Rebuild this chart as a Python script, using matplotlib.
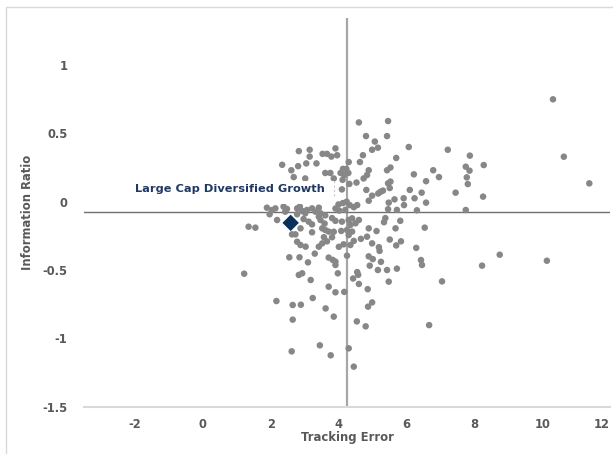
import matplotlib
matplotlib.use("Agg")
import matplotlib.pyplot as plt
from matplotlib.patches import Rectangle

# ---------------- data ----------------
te_upper = [2.83, 3.15, 3.15, 3.53, 3.66, 3.91, 3.79, 3.96, 2.34, 2.61,
            2.81, 3.05, 3.35, 2.68, 3.02, 3.61, 3.76, 3.86, 4.06, 4.13,
            4.23, 4.17, 4.29, 4.12, 4.32, 4.10, 4.30, 4.60, 5.46, 4.81,
            5.43, 5.07, 4.99, 5.16, 6.07, 7.22, 4.72, 4.63, 5.70, 5.53,
            5.43, 4.89, 4.84, 4.74, 6.22, 6.79, 6.96, 6.58, 7.45, 4.53,
            5.53, 5.46, 4.82, 4.99, 5.24, 5.31, 5.51, 6.10, 6.45, 5.65,
            5.92, 6.24, 6.58, 4.89, 5.48, 5.17, 5.93, 4.00, 4.13, 4.24,
            4.33, 4.45, 4.55]
ir_upper = [0.37, 0.38, 0.33, 0.35, 0.35, 0.39, 0.33, 0.34, 0.27, 0.23,
            0.26, 0.28, 0.28, 0.18, 0.17, 0.21, 0.21, 0.17, 0.21, 0.24,
            0.24, 0.195, 0.21, 0.16, 0.13, 0.09, 0.29, 0.58, 0.59, 0.48,
            0.48, 0.44, 0.38, 0.395, 0.40, 0.38, 0.34, 0.29, 0.32, 0.25,
            0.23, 0.23, 0.195, 0.17, 0.20, 0.23, 0.18, 0.15, 0.066, 0.14,
            0.147, 0.134, 0.086, 0.044, 0.073, 0.081, 0.10, 0.086, 0.066, 0.017,
            0.025, 0.025, -0.007, 0.007, -0.007, 0.06, -0.025, -0.02, -0.01, 0.0,
            -0.025, -0.04, -0.025]

te_lower_left = [1.89, 2.04, 2.14, 2.38, 2.48, 2.43, 2.78, 2.86, 2.93, 3.02,
                 3.07, 3.22, 3.32, 3.42, 3.47, 2.19, 1.55, 1.35, 2.97, 3.12,
                 2.88, 3.22, 3.42, 3.47, 3.52, 2.63, 2.73, 3.22, 2.78, 2.88,
                 3.03, 3.42, 3.52, 1.97, 2.78, 3.61, 3.59, 3.61, 3.71, 3.81,
                 3.91, 3.91, 3.86, 3.57, 3.81, 3.66, 3.30, 4.01, 2.55, 2.85,
                 3.10, 3.71, 3.83, 3.91, 3.91, 2.83, 2.93, 3.98, 3.18, 3.71,
                 3.91, 1.22]
ir_lower_left = [-0.044, -0.061, -0.049, -0.036, -0.053, -0.073, -0.049, -0.036, -0.068, -0.085,
                 -0.061, -0.049, -0.073, -0.044, -0.085, -0.134, -0.19, -0.183, -0.127, -0.146,
                 -0.195, -0.166, -0.11, -0.134, -0.195, -0.239, -0.239, -0.224, -0.293, -0.317,
                 -0.329, -0.329, -0.305, -0.092, -0.092, -0.10, -0.16, -0.207, -0.219, -0.12,
                 -0.14, -0.05, -0.22, -0.26, -0.26, -0.29, -0.38, -0.33, -0.407, -0.407,
                 -0.444, -0.409, -0.426, -0.439, -0.463, -0.536, -0.524, -0.524, -0.573, -0.622,
                 -0.663, -0.527]

te_lower_right = [5.46, 5.72, 6.31, 5.38, 5.34, 5.82, 5.68, 6.54, 4.89,
                  5.12, 4.84, 4.66, 5.51, 5.84, 5.70, 4.99, 5.19, 5.21, 6.29,
                  4.25, 4.89, 5.01, 5.25, 4.92, 5.16, 5.43, 5.72, 6.43, 6.46,
                  4.55, 4.58, 4.43, 4.60, 4.86, 5.48, 7.05, 4.17, 4.02, 4.20,
                  4.10, 4.30, 4.40, 4.60, 4.50, 4.35, 4.08, 4.25, 4.40, 4.30,
                  4.45, 4.35, 4.15]
ir_lower_right = [-0.055, -0.06, -0.063, -0.12, -0.15, -0.14, -0.195, -0.19, -0.195,
                  -0.215, -0.256, -0.272, -0.277, -0.29, -0.32, -0.305, -0.333, -0.36, -0.338,
                  -0.395, -0.40, -0.42, -0.44, -0.468, -0.50, -0.50, -0.49, -0.427, -0.463,
                  -0.515, -0.535, -0.562, -0.602, -0.64, -0.585, -0.583, -0.66, -0.065, -0.06,
                  -0.146, -0.134, -0.122, -0.134, -0.158, -0.17, -0.214, -0.207, -0.219, -0.244,
                  -0.287, -0.317, -0.312]

te_bottom = [2.17, 2.65, 2.89, 3.24, 3.62, 3.86, 2.65, 4.87, 4.99, 4.54,
             4.80, 6.67, 3.45, 2.62, 3.77, 4.30, 4.45]
ir_bottom = [-0.727, -0.756, -0.754, -0.705, -0.781, -0.841, -0.863, -0.768, -0.737, -0.876,
             -0.912, -0.903, -1.051, -1.095, -1.124, -1.073, -1.207]

te_right = [10.32, 10.64, 11.39, 10.14, 8.75, 8.23, 8.28, 8.26, 7.87, 7.75,
            7.86, 7.78, 7.81, 7.75]
ir_right = [0.749, 0.329, 0.134, -0.432, -0.388, -0.468, 0.268, 0.037, 0.337, 0.256,
            0.227, 0.178, 0.129, -0.061]

fund_name = "Large Cap Diversified Growth"
fund_te = 2.59
fund_ir = -0.155

median_te = 4.25
median_ir = -0.075

x_ticks = [-2, 0, 2, 4, 6, 8, 10, 12]
y_ticks = [-1.5, -1, -0.5, 0, 0.5, 1]
x_labels = ["-2", "0", "2", "4", "6", "8", "10", "12"]
y_labels = ["-1.5", "-1", "-0.5", "0", "0.5", "1"]

# ---------------- figure ----------------
te_all = te_upper + te_lower_left + te_lower_right + te_bottom + te_right
ir_all = ir_upper + ir_lower_left + ir_lower_right + ir_bottom + ir_right

fig = plt.figure(figsize=(6.13, 4.54), dpi=100)
fig.patch.set_facecolor("white")
fig.patches.append(Rectangle((6 / 613, -0.1), 2.0, 1 - 7 / 454 + 0.1,
                             transform=fig.transFigure, fill=False,
                             edgecolor="#d9d9d9", linewidth=1.0))

ax = fig.add_axes([84 / 613, 47.3 / 454, 526 / 613, 388.7 / 454])
ax.set_xlim(-3.5, 12)
ax.set_ylim(-1.5, 1.344)

ax.axvline(median_te, color="#a6a6a6", linewidth=1.6, zorder=1)
ax.axhline(median_ir, color="#6f6f6f", linewidth=1.0, zorder=1)

ax.scatter(te_all, ir_all, s=22, color="#878787", edgecolors="none", zorder=2)

# label box (white background of the data label)
ax.add_patch(Rectangle((-2.1, -0.017), 5.96, 0.167, facecolor="white",
                       edgecolor="none", zorder=3))
ax.plot([3.88, 3.88], [0.04, 0.15], linestyle=(0, (2, 2)), color="#c8c8c8",
        linewidth=0.8, zorder=4)
ax.text(-1.99, 0.093, fund_name, ha="left", va="center", fontsize=8.2,
        fontweight="bold", color="#1f3864", zorder=5)

ax.scatter([fund_te], [fund_ir], marker="D", s=70, color="#0b2f5c",
           edgecolors="none", zorder=6)

for side in ["top", "right", "left"]:
    ax.spines[side].set_visible(False)
ax.spines["bottom"].set_color("#d9d9d9")
ax.spines["bottom"].set_linewidth(1.5)

ax.set_xticks(x_ticks)
ax.set_xticklabels(x_labels)
ax.set_yticks(y_ticks)
ax.set_yticklabels(y_labels)
ax.tick_params(axis="both", length=0, labelsize=8.3, labelcolor="#595959")
ax.tick_params(axis="x", pad=8)
ax.tick_params(axis="y", pad=12)
for lab in ax.get_xticklabels() + ax.get_yticklabels():
    lab.set_fontweight("bold")
ax.get_xticklabels()[-1].set_ha("right")

ax.set_xlabel("Tracking Error", fontsize=8.4, fontweight="bold", color="#595959")
ax.set_ylabel("Information Ratio", fontsize=8.4, fontweight="bold", color="#595959")
ax.xaxis.set_label_coords(0.5, -0.078)
ax.xaxis.label.set_va("center")
ax.yaxis.set_label_coords(-0.108, 0.5)
ax.yaxis.label.set_va("center")

fig.savefig("out.png", dpi=100, facecolor="white")
